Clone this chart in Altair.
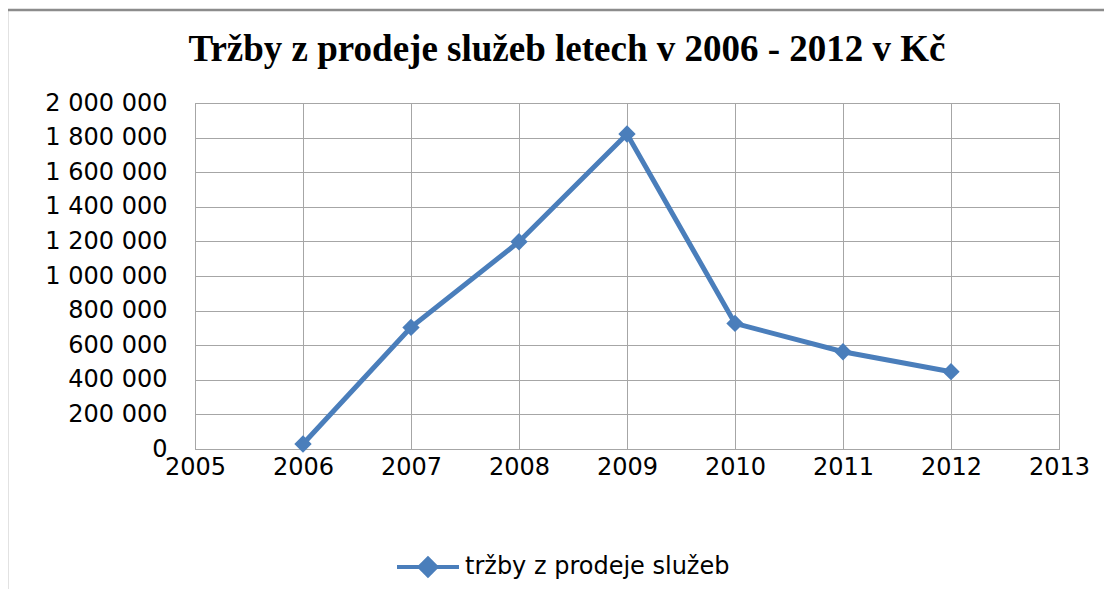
import altair as alt
import pandas as pd

years = [2006, 2007, 2008, 2009, 2010, 2011, 2012]
sales = [29000, 703000, 1198000, 1821000, 726000, 562000, 447000]
series_name = "tržby z prodeje služeb"
title_text = "Tržby z prodeje služeb letech v 2006 - 2012 v Kč"
x_ticks = [2005, 2006, 2007, 2008, 2009, 2010, 2011, 2012, 2013]
y_ticks = [0, 200000, 400000, 600000, 800000, 1000000, 1200000, 1400000, 1600000, 1800000, 2000000]

df = pd.DataFrame({"year": years, "sales": sales, "series": [series_name] * len(years)})

W, H = 864, 346
BLUE = "#4A7EBB"
GRID = "#A6A6A6"
FONT = "DejaVu Sans"
FS = 24

x_enc = alt.X("year:Q", scale=alt.Scale(domain=[2005, 2013], nice=False, zero=False),
              axis=alt.Axis(values=x_ticks, format="d", title=None, grid=True, ticks=False,
                            labelPadding=6, labelFlush=False, labelOverlap=False,
                            domainColor=GRID, gridColor=GRID,
                            labelFont=FONT, labelFontSize=FS, labelColor="#000"))
y_enc = alt.Y("sales:Q", scale=alt.Scale(domain=[0, 2000000], nice=False),
              axis=alt.Axis(values=y_ticks, title=None, grid=True, ticks=False,
                            labelPadding=28, labelOverlap=False, domainColor=GRID, gridColor=GRID,
                            labelExpr="replace(replace(format(datum.value, ','), ',', ' '), ',', ' ')",
                            labelFont=FONT, labelFontSize=FS, labelColor="#000"))

frame = alt.Chart(pd.DataFrame({"a": [0]})).mark_rect(
    fill=None, stroke="#8C8C8C", strokeWidth=2.5
).encode(x=alt.value(-188), x2=alt.value(W + 120), y=alt.value(-93), y2=alt.value(H + 200))

line = alt.Chart(df).mark_line(color=BLUE, strokeWidth=5).encode(x=x_enc, y=y_enc)

points = alt.Chart(df).mark_point(shape="diamond", filled=True, size=300, opacity=1).encode(
    x=x_enc, y=y_enc,
    color=alt.Color("series:N", scale=alt.Scale(range=[BLUE]),
                    legend=alt.Legend(title=None, orient="none", legendX=200, legendY=431,
                                      symbolType="M-1,0L1,0M-0.27,0L0,-0.27L0.27,0L0,0.27Z",
                                      symbolSize=3844, symbolStrokeColor=BLUE, symbolStrokeWidth=4,
                                      symbolFillColor=BLUE, labelFont=FONT, labelFontSize=FS,
                                      labelColor="#000", labelOffset=4, labelLimit=400))
)

chart = alt.layer(frame, line, points).properties(
    width=W, height=H,
    title=alt.TitleParams(title_text, font="Liberation Serif", fontSize=37, fontWeight="bold",
                          color="#000", anchor="middle", dx=-60, offset=0, dy=60),
    autosize=alt.AutoSizeParams(type="none"),
    padding={"left": 187, "top": 95, "right": 45, "bottom": 140},
).configure_view(stroke=GRID, strokeWidth=1)

chart.save("out.html", embed_options={"renderer": "svg", "actions": False})
